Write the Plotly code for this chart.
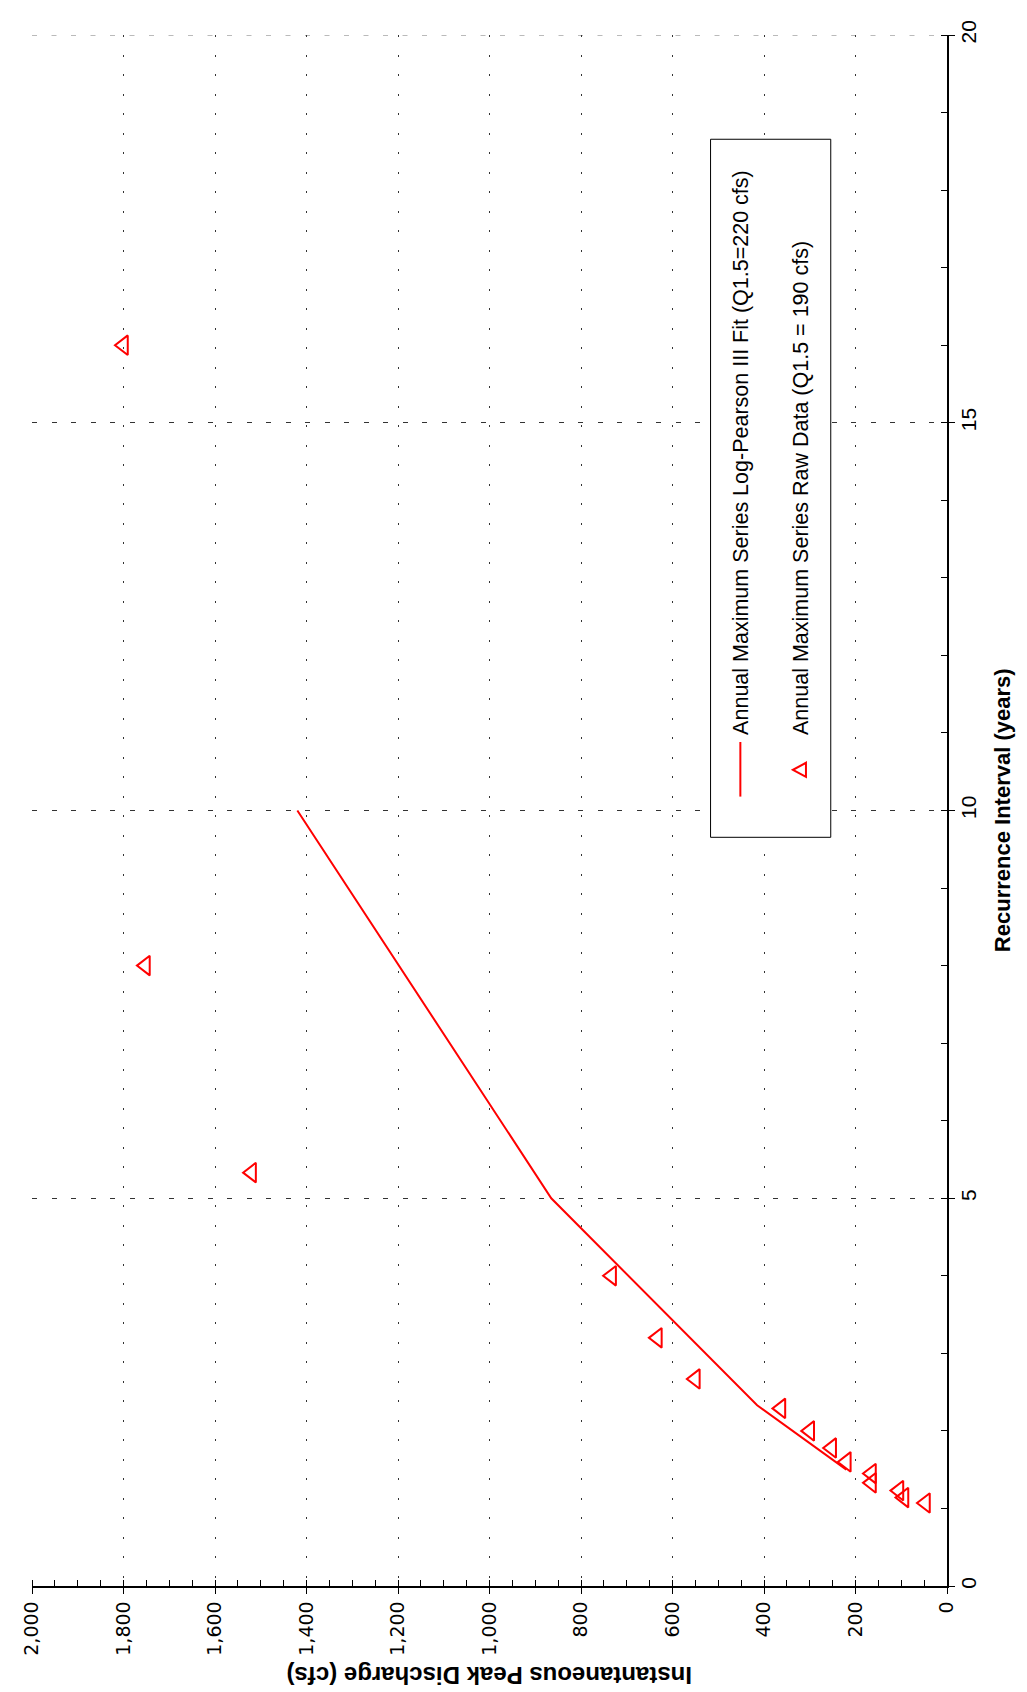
import plotly.graph_objects as go

# ---- data ----
fit_years = [1.5, 2.33, 5, 10]
fit_cfs = [220, 415, 865, 1420]

raw_years = [16.0, 8.0, 5.33, 4.0, 3.2, 2.67, 2.29, 2.0, 1.78, 1.6, 1.45, 1.33, 1.23, 1.14, 1.07]
raw_cfs = [1800, 1752, 1520, 733, 633, 550, 363, 300, 252, 220, 165, 165, 105, 94, 47]

fit_name = "Annual Maximum Series Log-Pearson III Fit (Q1.5=220 cfs)"
raw_name = "Annual Maximum Series Raw Data (Q1.5 = 190 cfs)"
x_title = "Instantaneous Peak Discharge (cfs)"
y_title = "Recurrence Interval (years)"

# ---- geometry ----
W, H = 1027, 1692
L, R, T, B = 18, 939, 16, 1578   # plot area in pixels


def px(xp):
    return (xp - L) / (R - L)


def py(yp):
    return (B - yp) / (B - T)


SANS = "Liberation Sans, Arial, sans-serif"
WIDE = "DejaVu Sans, Verdana, sans-serif"
RED = "#ff0000"

fig = go.Figure()
fig.add_trace(go.Scatter(
    x=fit_cfs, y=fit_years, mode="lines",
    line=dict(color=RED, width=2), name=fit_name, showlegend=False,
))
fig.add_trace(go.Scatter(
    x=raw_cfs, y=raw_years, mode="markers",
    marker=dict(symbol="triangle-left-open", size=17, color=RED,
                line=dict(color=RED, width=2)),
    name=raw_name, showlegend=False,
))

fig.update_layout(
    width=W, height=H,
    margin=dict(l=L, r=W - R, t=T, b=H - B, pad=0),
    paper_bgcolor="white", plot_bgcolor="white",
    showlegend=False,
    xaxis=dict(
        range=[2000, 0], tick0=0, dtick=200, tickformat=",",
        showgrid=True, gridcolor="#333333", gridwidth=1, griddash="2px,17.5px",
        zeroline=False,
        showline=True, linecolor="black", linewidth=1.5,
        ticks="outside", ticklen=6, tickcolor="black",
        minor=dict(dtick=50, ticks="inside", ticklen=6, tickcolor="black", showgrid=False),
        tickangle=-90, tickfont=dict(family=WIDE, size=19, color="black"),
    ),
    yaxis=dict(
        range=[0, 20], tick0=0, dtick=5, side="right",
        showgrid=True, gridcolor="#333333", gridwidth=1, griddash="5px,14.5px",
        zeroline=False,
        showline=True, linecolor="black", linewidth=1.5,
        ticks="outside", ticklen=6, tickcolor="black",
        ticklabelstandoff=-4,
        minor=dict(dtick=1, ticks="inside", ticklen=6, tickcolor="black", showgrid=False),
        tickangle=-90, tickfont=dict(family=SANS, size=21, color="black"),
    ),
)

# top gridline at the upper range limit (same style as the other horizontal gridlines)
fig.add_shape(type="line", xref="paper", yref="y", x0=0, x1=1, y0=20, y1=20,
              line=dict(color="#777777", width=1, dash="5px,14.5px"), layer="below")

# legend box
fig.add_shape(type="rect", xref="paper", yref="paper",
              x0=px(701), x1=px(822), y0=py(824), y1=py(121),
              line=dict(color="black", width=1), fillcolor="white", layer="above")
# legend line symbol
fig.add_shape(type="line", xref="paper", yref="paper",
              x0=px(731), x1=px(731), y0=py(783), y1=py(728),
              line=dict(color=RED, width=2), layer="above")
# legend triangle symbol
fig.add_shape(type="path", xref="paper", yref="paper",
              xsizemode="pixel", ysizemode="pixel",
              xanchor=px(792), yanchor=py(756),
              path="M -8 0 L 5 -7 L 5 7 Z",
              line=dict(color=RED, width=2), fillcolor="rgba(0,0,0,0)", layer="above")

fig.add_annotation(text=fit_name, xref="paper", yref="paper",
                   x=px(731), y=py(723), xanchor="center", yanchor="bottom",
                   textangle=-90, showarrow=False,
                   font=dict(family=SANS, size=21.5, color="black"))
fig.add_annotation(text=raw_name, xref="paper", yref="paper",
                   x=px(792), y=py(723), xanchor="center", yanchor="bottom",
                   textangle=-90, showarrow=False,
                   font=dict(family=SANS, size=21.5, color="black"))

# axis titles
fig.add_annotation(text="<b>" + y_title + "</b>", xref="paper", yref="paper",
                   x=px(995), y=0.5, xanchor="center", yanchor="middle",
                   textangle=-90, showarrow=False,
                   font=dict(family=SANS, size=22, color="black"))
fig.add_annotation(text="<b>" + x_title + "</b>", xref="paper", yref="paper",
                   x=0.5, y=py(1668), xanchor="center", yanchor="middle",
                   textangle=180, showarrow=False,
                   font=dict(family=SANS, size=24, color="black"))

fig.write_html("out.html")
